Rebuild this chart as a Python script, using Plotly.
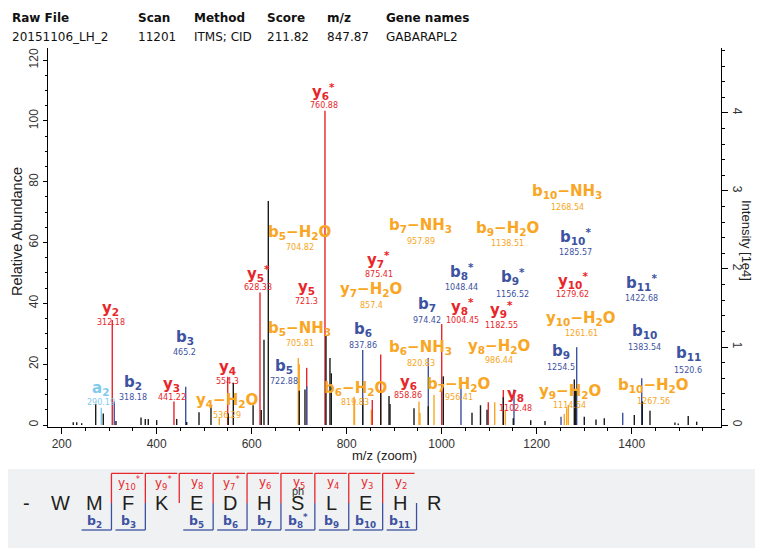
import re
import plotly.graph_objects as go

# ---------------- data ----------------
# unannotated (black) peaks: m/z and relative abundance
black_mz = [224.4, 231.6, 242.1, 271.6, 287.6, 314.3, 367.0, 376.0, 382.3, 400.0,
            442.1, 463.2, 489.1, 514.3, 550.7, 561.3, 603.0, 620.2, 625.9, 635.0,
            700.2, 712.2, 756.4, 764.8, 767.6, 833.7, 871.6, 889.1, 891.2, 941.7,
            971.8, 1003.4, 1063.8, 1081.7, 1095.4, 1129.7, 1150.7, 1187.4, 1217.5,
            1279.2, 1282.1, 1300.2, 1324.8, 1342.3, 1405.5, 1422.3, 1438.5, 1491.0,
            1498.0, 1519.0, 1536.8]
black_rel = [0.9, 0.9, 0.6, 6.9, 3.8, 1.3, 2.5, 2.0, 2.0, 1.6,
             2.0, 1.0, 4.2, 6.6, 3.8, 13.9, 6.5, 4.9, 28.0, 73.7,
             11.3, 11.7, 29.3, 22.0, 17.0, 8.8, 11.0, 9.5, 6.9, 5.5,
             6.2, 16.0, 4.0, 6.5, 5.0, 9.1, 2.2, 1.6, 1.3,
             15.0, 11.5, 2.7, 1.8, 2.2, 3.3, 7.7, 4.7, 0.8,
             0.5, 3.0, 1.1]

# y-ion peaks (red)
y_mz = [306.5, 436.4, 549.5, 617.5, 715.8, 754.3, 853.9, 871.6, 1000.0, 1098.1, 1129.7]
y_rel = [34.5, 7.7, 15.9, 43.6, 18.8, 103.4, 8.2, 23.2, 33.2, 7.5, 11.5]

# b-ion peaks (blue)
b_mz = [310.7, 461.1, 715.8, 833.7, 971.8, 1040.6, 1152.2, 1251.2, 1284.2, 1381.1, 1421.1]
b_rel = [7.7, 12.6, 12.8, 24.7, 22.0, 13.7, 11.7, 2.7, 25.6, 4.0, 15.4]

# a-ion peaks (light blue)
a_mz = [283.4]
a_rel = [5.7]

# neutral-loss peaks (orange)
loss_mz = [531.8, 698.1, 700.2, 815.4, 816.4, 852.0, 952.2, 954.3, 983.8, 1111.6,
           1134.0, 1258.1, 1263.1, 1266.6]
loss_rel = [2.2, 22.0, 20.0, 9.3, 8.5, 5.0, 7.7, 4.0, 9.9, 7.5,
            5.0, 3.6, 5.5, 6.6]

# peak labels: ion name, m/z text
label_names = ["a2", "y2", "b2", "y3", "b3", "y4", "y4-H2O", "y5*", "b5", "b5-NH3",
               "y5", "b5-H2O", "y6*", "y7*", "b7-NH3", "y7-H2O", "b6", "b6-NH3", "b6-H2O",
               "y6", "b7", "y8*", "b8*", "b7-H2O", "y8-H2O", "b9-H2O", "b10-NH3", "b10*",
               "b9*", "y10*", "b11*", "y9*", "y10-H2O", "b10", "b9", "b11", "y8",
               "y9-H2O", "b10-H2O"]
label_mz_text = ["290.19", "312.18", "318.18", "441.22", "465.2", "554.3", "536.29", "628.33",
                 "722.88", "705.81", "721.3", "704.82", "760.88", "875.41", "957.89", "857.4",
                 "837.86", "820.83", "819.83", "858.86", "974.42", "1004.45", "1048.44",
                 "956.41", "986.44", "1138.51", "1268.54", "1285.57", "1156.52", "1279.62",
                 "1422.68", "1182.55", "1261.61", "1383.54", "1254.5", "1520.6", "1102.48",
                 "1114.54", "1267.56"]
# label placement (data coordinates: m/z, relative abundance)
label_x = [282.7, 303.8, 350.1, 432.2, 459.6, 549.0, 549.0, 613.9, 669.0, 701.7,
           715.8, 701.7, 752.2, 868.0, 955.4, 851.2, 833.3, 956.4, 817.5,
           929.7, 970.1, 1043.8, 1042.1, 1036.4, 1120.6, 1137.5, 1264.8, 1282.7,
           1150.1, 1275.4, 1419.6, 1126.3, 1293.3, 1425.9, 1251.2, 1519.2, 1156.4,
           1270.1, 1445.9]
label_name_y = [11.5, 37.8, 13.2, 12.8, 28.0, 18.1, 7.3, 49.3, 18.7, 31.0,
                44.6, 62.8, 108.9, 53.7, 65.0, 43.8, 30.7, 24.9, 11.5,
                13.2, 38.9, 38.4, 49.9, 12.8, 25.2, 64.1, 76.0, 61.4,
                48.3, 46.8, 46.1, 37.3, 34.3, 30.2, 23.6, 22.7, 9.5,
                10.4, 12.3]
label_num_y = [7.7, 34.2, 9.5, 9.3, 24.1, 14.5, 3.6, 45.5, 14.6, 27.1,
               40.8, 58.7, 105.3, 49.9, 60.6, 39.5, 26.5, 20.5, 7.7,
               9.9, 34.8, 34.8, 45.5, 9.3, 21.6, 60.0, 71.8, 57.2,
               43.1, 43.1, 42.0, 33.1, 30.4, 25.8, 19.4, 18.3, 5.8,
               6.6, 8.2]

# header table
header_keys = ["Raw File", "Scan", "Method", "Score", "m/z", "Gene names"]
header_vals = ["20151106_LH_2", "11201", "ITMS; CID", "211.82", "847.87", "GABARAPL2"]

# peptide sequence and fragment coverage
residues = ["-", "W", "M", "F", "K", "E", "D", "H", "S", "L", "E", "H", "R"]
y_cov = {3: "y10*", 4: "y9*", 5: "y8", 6: "y7*", 7: "y6", 8: "y5", 9: "y4", 10: "y3", 11: "y2"}
b_cov = {2: "b2", 3: "b3", 5: "b5", 6: "b6", 7: "b7", 8: "b8*", 9: "b9", 10: "b10", 11: "b11"}

# ---------------- styling ----------------
RED = "#E8262B"
BLUE = "#3D52A1"
ORANGE = "#F8A623"
LBLUE = "#7FCBEE"
BLACK = "#1A1A1A"
OFF = 8                      # page body margin of the browser
WIDTH, HEIGHT = 763 - OFF, 548 - OFF
PL, PR, PT, PB = 48, 721, 48, 427   # plot area in page pixels


def PX(x):
    return (x - PL) / (PR - PL)


def PY(y):
    return (PB - y) / (PB - PT)


def sticks(mz, rel):
    xs, ys = [], []
    for m, r in zip(mz, rel):
        xs += [m, m, None]
        ys += [0, r, None]
    return xs, ys


def ion_html(name, bold=True):
    m = re.match(r"^([aby])(\d+)(\*?)(?:-(H2O|NH3))?$", name)
    base, n, star, loss = m.groups()
    s = f"{base}<sub>{n}</sub>"
    if star:
        s += "<sup>*</sup>"
    if loss == "H2O":
        s += "−H<sub>2</sub>O"
    elif loss == "NH3":
        s += "−NH<sub>3</sub>"
    return f"<b>{s}</b>" if bold else s


def ion_color(name):
    if "-" in name:
        return ORANGE
    return {"y": RED, "b": BLUE, "a": LBLUE}[name[0]]


def note(x, y, text, font, **kw):
    d = dict(x=PX(x), y=PY(y), xref="paper", yref="paper", text=text, showarrow=False,
             font=font, xanchor="center", yanchor="middle")
    d.update(kw)
    return d


fig = go.Figure()
for mz, rel, col in [(loss_mz, loss_rel, ORANGE), (y_mz, y_rel, RED), (b_mz, b_rel, BLUE),
                     (a_mz, a_rel, LBLUE), (black_mz, black_rel, BLACK)]:
    xs, ys = sticks(mz, rel)
    fig.add_trace(go.Scatter(x=xs, y=ys, mode="lines", line=dict(color=col, width=1.4),
                             showlegend=False, hoverinfo="skip"))
# carrier trace for the intensity axis
fig.add_trace(go.Scatter(x=[200], y=[0], yaxis="y2", mode="markers",
                         marker=dict(opacity=0), showlegend=False, hoverinfo="skip"))

ann = []
for nm, mt, lx, ny, my in zip(label_names, label_mz_text, label_x, label_name_y, label_num_y):
    c = ion_color(nm)
    ann.append(dict(x=lx, y=ny, xref="x", yref="y", text=ion_html(nm), showarrow=False,
                    font=dict(family="DejaVu Sans", size=15, color=c),
                    xanchor="center", yanchor="middle", yshift=2))
    ann.append(dict(x=lx, y=my, xref="x", yref="y", text=mt, showarrow=False,
                    font=dict(family="DejaVu Sans", size=8, color=c),
                    xanchor="center", yanchor="middle", yshift=-1))

# header
hfont = dict(family="DejaVu Sans", size=12, color="#111")
hx = [10, 136, 192, 265, 325, 384]
for k, v, x in zip(header_keys, header_vals, hx):
    ann.append(note(x, 18, f"<b>{k}</b>", hfont, xanchor="left"))
    ann.append(note(x, 37, v, hfont, xanchor="left"))

# axis titles
ann.append(note(17, 232, "Relative Abundance", dict(family="Liberation Sans", size=14.5, color="#222"),
                textangle=-90))
ann.append(note(747, 240, "Intensity [1e4]", dict(family="Liberation Sans", size=13, color="#222"),
                textangle=90))
ann.append(note(384.5, 455, "m/z (zoom)", dict(family="Liberation Sans", size=13, color="#222")))

shapes = [dict(type="rect", xref="paper", yref="paper", x0=PX(7), x1=PX(770), y0=PY(469), y1=PY(560),
               fillcolor="#F0F1F2", line=dict(width=0), layer="below")]

# sequence panel
step = 33.9
x0 = 26.7
for i, r in enumerate(residues):
    cx = x0 + i * step
    ann.append(note(cx, 503, r, dict(family="Liberation Sans", size=20, color="#231F20")))
ann.append(note(x0 + 8 * step, 491, "ph", dict(family="Liberation Sans", size=11, color="#333")))

for i, nm in y_cov.items():
    cx = x0 + i * step
    sl, sr = cx - step / 2, cx + step / 2
    shapes.append(dict(type="line", xref="paper", yref="paper", x0=PX(sl), x1=PX(sl),
                       y0=PY(473.3), y1=PY(503), line=dict(color=RED, width=1.3)))
    shapes.append(dict(type="line", xref="paper", yref="paper", x0=PX(sl), x1=PX(sr - 2),
                       y0=PY(473.3), y1=PY(473.3), line=dict(color=RED, width=1.3)))
    ann.append(note(cx + 1, 483, ion_html(nm, bold=False), dict(family="DejaVu Sans", size=12, color=RED)))
for i, nm in b_cov.items():
    cx = x0 + i * step
    sl, sr = cx - step / 2, cx + step / 2
    shapes.append(dict(type="line", xref="paper", yref="paper", x0=PX(sr), x1=PX(sr),
                       y0=PY(503), y1=PY(530), line=dict(color=BLUE, width=1.3)))
    shapes.append(dict(type="line", xref="paper", yref="paper", x0=PX(sl + 4), x1=PX(sr),
                       y0=PY(530), y1=PY(530), line=dict(color=BLUE, width=1.3)))
    ann.append(note(cx, 521, ion_html(nm), dict(family="DejaVu Sans", size=12.5, color=BLUE)))

tickfont = dict(family="Liberation Sans", size=12, color="#333")
fig.update_layout(
    width=WIDTH, height=HEIGHT,
    margin=dict(l=PL - OFF, r=WIDTH - (PR - OFF), t=PT - OFF, b=HEIGHT - (PB - OFF), pad=0),
    paper_bgcolor="white", plot_bgcolor="white",
    showlegend=False,
    xaxis=dict(range=[171.2, 1588.0], showline=True, linecolor="black", linewidth=1,
               ticks="outside", ticklen=6, tickcolor="black", dtick=200, tick0=0,
               minor=dict(dtick=50, ticks="outside", ticklen=3, tickcolor="black"),
               showgrid=False, zeroline=False, tickfont=tickfont),
    yaxis=dict(range=[-0.658, 124.0], showline=True, linecolor="black", linewidth=1,
               ticks="outside", ticklen=4, tickcolor="black", dtick=20, tick0=0, tickangle=-90,
               minor=dict(dtick=5, ticks="outside", ticklen=2, tickcolor="black"),
               showgrid=False, zeroline=False, tickfont=tickfont),
    yaxis2=dict(range=[-0.0256, 4.833], overlaying="y", side="right", showline=True,
                linecolor="black", linewidth=1, ticks="outside", ticklen=6, tickcolor="black",
                dtick=1, tick0=0, tickangle=90,
                minor=dict(dtick=0.2, ticks="outside", ticklen=3, tickcolor="black"),
                showgrid=False, zeroline=False, tickfont=tickfont),
    annotations=ann,
    shapes=shapes,
)

fig.write_html("out.html")
